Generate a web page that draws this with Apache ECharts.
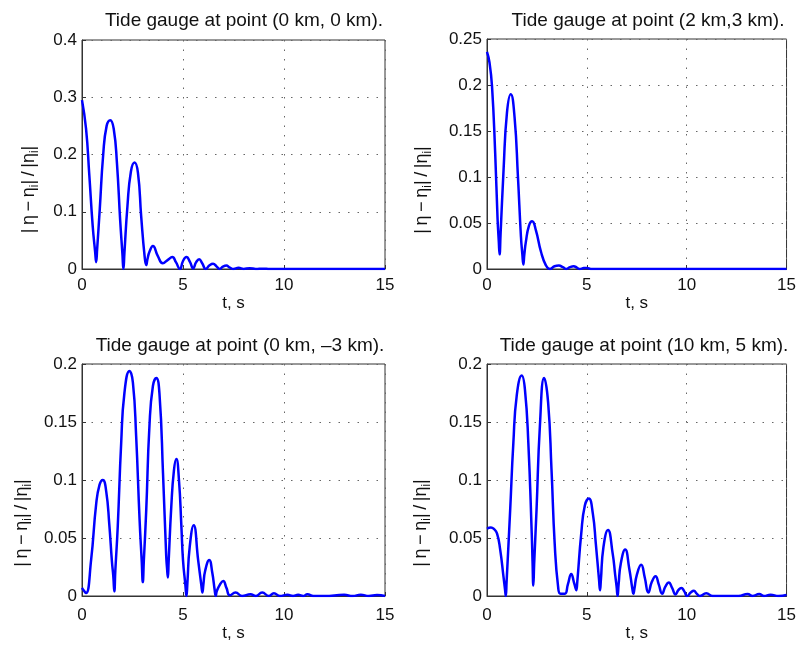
<!DOCTYPE html>
<html>
<head>
<meta charset="utf-8">
<script src="https://cdn.jsdelivr.net/npm/echarts@6/dist/echarts.min.js"></script>
<style>
html,body{margin:0;padding:0;background:#fff;}
#chart{width:799px;height:646px;}
</style>
</head>
<body>
<div id="chart"></div>
<script>
// ---------- Data ----------
const titles = [
  'Tide gauge at point (0 km, 0 km).',
  'Tide gauge at point (2 km,3 km).',
  'Tide gauge at point (0 km, \u20133 km).',
  'Tide gauge at point (10 km, 5 km).'
];
const xTicks = [0, 5, 10, 15];
const yMax = [0.4, 0.25, 0.2, 0.2];
const yStep = [0.1, 0.05, 0.05, 0.05];

const t1 = [0,0.2,0.36,0.53,0.65,0.70,0.75,0.88,1.05,1.22,1.40,1.57,1.73,1.89,2.0,2.05,2.1,2.25,2.42,2.60,2.77,2.93,3.10,3.18,3.24,3.34,3.51,3.75,4.0,4.25,4.47,4.65,4.85,5.0,5.17,5.35,5.5,5.65,5.80,5.95,6.13,6.3,6.49,6.65,6.82,6.97,7.15,7.3,7.5,7.75,8.0,8.3,8.6,8.96,9.3,12,15];
const v1 = [0.295,0.245,0.165,0.075,0.03,0.012,0.035,0.105,0.200,0.250,0.260,0.245,0.185,0.085,0.027,0.0,0.028,0.110,0.170,0.186,0.168,0.092,0.022,0.007,0.017,0.030,0.040,0.023,0.010,0.016,0.021,0.012,0.0,0.014,0.021,0.012,0.001,0.012,0.017,0.010,0.0,0.006,0.009,0.005,0.0,0.004,0.006,0.003,0.0,0.002,0.0,0.0015,0.0,0.0006,0.0,0.0,0.0];

const t2 = [0,0.12,0.25,0.41,0.53,0.59,0.63,0.68,0.83,1.0,1.19,1.38,1.55,1.70,1.77,1.82,1.87,1.95,2.10,2.26,2.45,2.70,2.95,3.15,3.38,3.6,3.8,3.98,4.15,4.34,4.5,4.64,4.85,5.0,5.2,10,15];
const v2 = [0.236,0.225,0.199,0.126,0.054,0.030,0.016,0.038,0.108,0.170,0.190,0.165,0.100,0.035,0.016,0.005,0.016,0.030,0.047,0.052,0.042,0.019,0.004,0.0,0.003,0.0037,0.002,0.0,0.002,0.003,0.0015,0.0,0.001,0.0012,0.0,0.0,0.0];

const t3 = [0,0.08,0.2,0.45,0.7,0.87,1.03,1.20,1.35,1.48,1.55,1.6,1.65,1.77,1.94,2.1,2.35,2.52,2.68,2.85,2.96,3.01,3.06,3.18,3.34,3.51,3.68,3.84,4.01,4.17,4.21,4.25,4.29,4.42,4.55,4.67,4.80,4.92,5.0,5.12,5.17,5.22,5.33,5.53,5.75,5.91,5.96,6.01,6.1,6.30,6.45,6.57,6.62,6.67,6.8,6.99,7.15,7.32,7.6,7.93,8.34,8.6,8.92,9.25,9.5,9.8,10.17,10.45,10.7,10.95,11.16,11.45,12.0,12.98,13.4,13.8,14.2,14.6,15];
const v3 = [0.007,0.005,0.0025,0.031,0.079,0.096,0.100,0.090,0.062,0.030,0.017,0.004,0.022,0.060,0.132,0.175,0.194,0.184,0.138,0.066,0.029,0.012,0.030,0.074,0.147,0.181,0.188,0.173,0.106,0.034,0.024,0.016,0.030,0.077,0.108,0.118,0.100,0.060,0.031,0.009,0.0,0.012,0.042,0.061,0.031,0.009,0.003,0.010,0.022,0.031,0.020,0.005,0.0,0.004,0.009,0.013,0.007,0.0006,0.003,0.0,0.0015,0.0,0.003,0.0,0.0023,0.0,0.001,0.0,0.001,0.0,0.0015,0.0,0.0,0.001,0.0,0.001,0.0,0.0008,0.0];

const t4 = [0,0.2,0.33,0.5,0.66,0.83,0.90,0.94,0.98,1.16,1.32,1.49,1.74,1.90,2.07,2.24,2.28,2.32,2.36,2.48,2.65,2.86,3.06,3.23,3.39,3.56,3.68,3.9,4.05,4.22,4.35,4.43,4.47,4.52,4.72,4.9,5.1,5.3,5.45,5.61,5.66,5.70,5.83,6.06,6.29,6.42,6.49,6.54,6.59,6.7,6.92,7.12,7.28,7.33,7.38,7.5,7.72,7.9,8.08,8.25,8.44,8.6,8.77,8.93,9.1,9.27,9.44,9.58,9.73,9.88,10.02,10.2,10.36,10.5,10.65,10.98,11.3,11.9,12.6,13.05,13.3,13.63,13.87,14.2,14.6,15];
const v4 = [0.058,0.059,0.058,0.054,0.040,0.016,0.006,0.0,0.012,0.074,0.132,0.173,0.190,0.178,0.132,0.054,0.030,0.009,0.027,0.074,0.147,0.188,0.167,0.109,0.045,0.008,0.002,0.002,0.010,0.019,0.012,0.007,0.005,0.012,0.054,0.078,0.084,0.071,0.045,0.014,0.005,0.013,0.042,0.057,0.037,0.018,0.008,0.0,0.010,0.028,0.040,0.024,0.006,0.002,0.006,0.018,0.027,0.016,0.003,0.012,0.017,0.010,0.002,0.008,0.0116,0.007,0.0014,0.005,0.007,0.004,0.0,0.003,0.0046,0.002,0.0,0.0023,0.0,0.0,0.0,0.0017,0.0,0.0017,0.0,0.001,0.0,0.001];

const seriesT = [t1, t2, t3, t4];
const seriesV = [v1, v2, v3, v4];

// ---------- Layout ----------
const FONT = '"Liberation Sans", Arial, Helvetica, sans-serif';
const grids = [
  {left: 82, top: 40, width: 303, height: 229},
  {left: 487, top: 39, width: 301, height: 230},
  {left: 82, top: 364, width: 303, height: 232},
  {left: 487, top: 364, width: 301, height: 232}
];
const titlePos = [
  {x: 239, y: 6},
  {x: 643, y: 6},
  {x: 235, y: 331},
  {x: 639, y: 331}
];
const yNameGap = [41, 53, 48, 54];
const yNamePad = [70, 72, 86, 86];
const xLabelMargin = [8, 8, 11, 11];
const xNameGap = [23, 23, 27, 27];

const TS = '\u2009';
const yNameText = '{n|\u007C' + TS + '\u03B7' + TS + '\u2212' + TS + '\u03B7}{s|i}{n|\u007C' + TS + '/' + TS + '\u007C\u03B7}{s|i}{n|\u007C}{g|}';

const option = {
  animation: false,
  backgroundColor: '#fff',
  textStyle: {fontFamily: FONT, color: '#000'},
  title: titles.map((txt, i) => ({
    text: txt,
    left: titlePos[i].x,
    top: titlePos[i].y,
    textAlign: 'center',
    textStyle: {fontFamily: FONT, fontSize: 19, fontWeight: 'normal', color: '#111'}
  })),
  grid: grids.map(g => Object.assign({show: true, borderColor: '#333', borderWidth: 1, backgroundColor: '#fff', containLabel: false}, g)),
  xAxis: grids.map((g, i) => ({
    type: 'value',
    gridIndex: i,
    min: xTicks[0],
    max: xTicks[xTicks.length - 1],
    interval: 5,
    name: 't, s',
    nameLocation: 'middle',
    nameGap: xNameGap[i],
    nameTextStyle: {fontFamily: FONT, fontSize: 17, color: '#111'},
    axisLine: {show: true, lineStyle: {color: '#333', width: 1}},
    axisTick: {show: true, inside: true, length: 4, lineStyle: {color: '#333'}},
    axisLabel: {fontFamily: FONT, fontSize: 17, color: '#111', margin: xLabelMargin[i]},
    splitLine: {show: true, lineStyle: {color: '#666', width: 1, type: [1.5, 8]}}
  })),
  yAxis: grids.map((g, i) => ({
    type: 'value',
    gridIndex: i,
    min: 0,
    max: yMax[i],
    interval: yStep[i],
    name: yNameText,
    nameLocation: 'middle',
    nameGap: yNameGap[i],
    nameRotate: 90,
    nameTextStyle: {
      fontFamily: FONT, color: '#111',
      rich: {
        n: {fontFamily: FONT, fontSize: 18, lineHeight: 24, verticalAlign: 'middle', color: '#111'},
        s: {fontFamily: FONT, fontSize: 12, lineHeight: 24, verticalAlign: 'bottom', color: '#111'},
        g: {width: yNamePad[i], lineHeight: 24}
      }
    },
    axisLine: {show: true, lineStyle: {color: '#333', width: 1}},
    axisTick: {show: true, inside: true, length: 4, lineStyle: {color: '#333'}},
    axisLabel: {fontFamily: FONT, fontSize: 17, color: '#111', margin: 5},
    splitLine: {show: true, lineStyle: {color: '#666', width: 1, type: [1.5, 8]}}
  })),
  series: seriesT.map((ts, i) => ({
    type: 'line',
    xAxisIndex: i,
    yAxisIndex: i,
    data: ts.map((t, k) => [t, seriesV[i][k]]),
    showSymbol: false,
    smooth: 0.5,
    clip: true,
    lineStyle: {color: '#0000ff', width: 2.5},
    itemStyle: {color: '#0000ff'}
  }))
};

const chart = echarts.init(document.getElementById('chart'), null, {renderer: 'canvas'});
chart.setOption(option);
</script>
</body>
</html>
